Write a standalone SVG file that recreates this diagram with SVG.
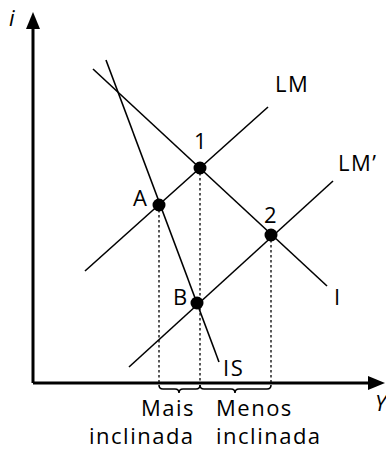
<svg xmlns="http://www.w3.org/2000/svg" width="386" height="450" viewBox="0 0 386 450">
<style>
.ln{stroke:#000;stroke-width:1.6;fill:none}
.dt{stroke:#000;stroke-width:1.3;stroke-dasharray:2.5,2.5;fill:none}
.ax{stroke:#000;stroke-width:3;fill:none}
.t{font-family:"Open Sans","DejaVu Sans",sans-serif;font-size:22px;font-weight:500;letter-spacing:1.5px;fill:#000}
.it{font-style:italic;letter-spacing:0}
.dot{fill:#000}
</style>
<rect width="386" height="450" fill="#fff"/>
<g id="axes">
<path class="ax" d="M33,383 V26 M33,383 H372"/>
<polygon points="33,12 26,29 40,29" fill="#000"/>
<polygon points="385,383 368,376 368,390" fill="#000"/>
<text class="t it" x="9" y="26">i</text>
<text class="t it" x="375" y="411">Y</text>
</g>
<g id="connectors">
<line class="ln" x1="93" y1="69" x2="327" y2="286"/>
<line class="ln" x1="106" y1="60" x2="219" y2="362"/>
<line class="ln" x1="85" y1="271" x2="268" y2="107"/>
<line class="ln" x1="129" y1="367" x2="333" y2="181"/>
<line class="dt" x1="159" y1="205" x2="159" y2="383"/>
<line class="dt" x1="200" y1="168" x2="200" y2="383"/>
<line class="dt" x1="271" y1="235" x2="271" y2="383"/>
<path class="ln" d="M159,385 q0,4 4,4 h12 q4,0 4,4 q0,-4 4,-4 h13 q4,0 4,-4"/>
<path class="ln" d="M200,385 q0,4 4,4 h27 q4,0 4,4 q0,-4 4,-4 h28 q4,0 4,-4"/>
</g>
<g id="curve-labels">
<text class="t" x="275" y="92">LM</text>
<text class="t" x="338" y="171">LM’</text>
<text class="t" x="334" y="305">I</text>
<text class="t" x="223" y="376">IS</text>
</g>
<g id="p1"><circle class="dot" cx="200" cy="168" r="6.5"/><text class="t" x="194" y="149">1</text></g>
<g id="pA"><circle class="dot" cx="159" cy="205" r="6.5"/><text class="t" x="133" y="206">A</text></g>
<g id="p2"><circle class="dot" cx="271" cy="235" r="6.5"/><text class="t" x="264" y="223">2</text></g>
<g id="pB"><circle class="dot" cx="197" cy="303" r="6.5"/><text class="t" x="173" y="305">B</text></g>
<g id="labels">
<text class="t" x="141" y="416">Mais</text>
<text class="t" x="89" y="444">inclinada</text>
<text class="t" x="216" y="416">Menos</text>
<text class="t" x="216" y="444">inclinada</text>
</g>
</svg>
